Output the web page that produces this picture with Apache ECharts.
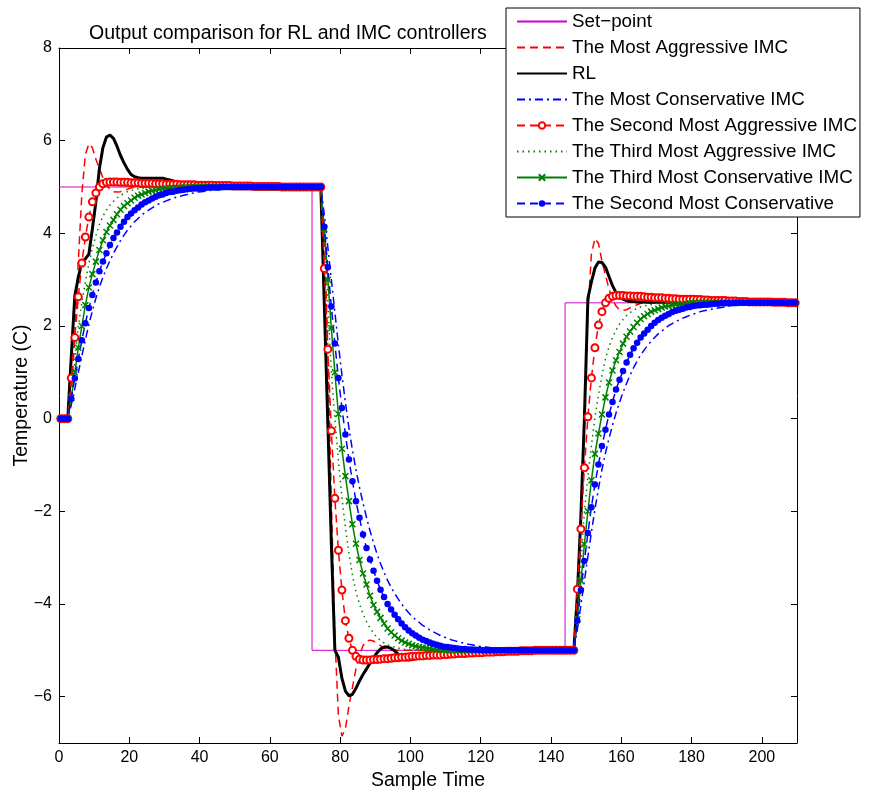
<!DOCTYPE html>
<html><head><meta charset="utf-8">
<script src="https://cdn.jsdelivr.net/npm/echarts@6/dist/echarts.min.js"></script>
<style>html,body{margin:0;padding:0;background:#fff}#c{width:877px;height:796px}</style>
</head><body><div id="c"></div>
<script>
const xTicks = [0,20,40,60,80,100,120,140,160,180,200];
const yTicks = [-6,-4,-2,0,2,4,6,8];
const titleText = 'Output comparison for RL and IMC controllers';
const seriesNames = ['Set\u2212point','The Most Aggressive IMC','RL','The Most Conservative IMC',
  'The Second Most Aggressive IMC','The Third Most Aggressive IMC','The Third Most Conservative IMC','The Second Most Conservative'];

const setPointTime = [0, 72, 72, 144, 144, 210];
const setPointValue = [5, 5, -5, -5, 2.5, 2.5];

// sample positions of the controller outputs (210 samples)
const sampleTime = Array.from({length: 210}, (_, i) => i + 0.5);

const mostAggressive = [0,0,0,
 0.5,1.75,3.4,4.85,5.7,5.93,5.85,5.6,5.4,5.2,
 5.05,4.95,4.9,4.89,4.9,4.93,4.95,4.98,4.99,5,
 5,5,5,5,5,5,5,5,5,5, 5,5,5,5,5,5,5,5,5,5, 5,5,5,5,5,5,5,5,5,5,
 5,5,5,5,5,5,5,5,5,5, 5,5,5,5,5,5,5,5,5,5, 5,5,
 4.0,1.5,-1.8,-4.7,-6.4,-6.85,-6.7,-6.2,-5.8,-5.4,
 -5.1,-4.9,-4.8,-4.78,-4.8,-4.85,-4.9,-4.95,-4.98,-5,
 -5,-5,-5,-5,-5,-5,-5,-5,-5,-5, -5,-5,-5,-5,-5,-5,-5,-5,-5,-5, -5,-5,-5,-5,-5,-5,-5,-5,-5,-5,
 -5,-5,-5,-5,-5,-5,-5,-5,-5,-5, -5,-5,-5,-5,-5,-5,-5,-5,-5,-5, -5,-5,
 -4.25,-2.38,0.1,2.28,3.55,3.89,3.78,3.4,3.1,2.8,
 2.58,2.43,2.35,2.34,2.35,2.39,2.43,2.46,2.49,2.5,
 2.5,2.5,2.5,2.5,2.5,2.5,2.5,2.5,2.5,2.5, 2.5,2.5,2.5,2.5,2.5,2.5,2.5,2.5,2.5,2.5,
 2.5,2.5,2.5,2.5,2.5,2.5,2.5,2.5,2.5,2.5, 2.5,2.5,2.5,2.5,2.5,2.5,2.5,2.5,2.5,2.5, 2.5,2.5,2.5];

const rlOutput = [0,0,0,
 1.35,2.65,3.05,3.38,3.45,3.55,4.1,4.68,5.4,5.85,
 6.08,6.12,6.05,5.88,5.68,5.52,5.38,5.27,5.22,5.2,
 5.19,5.19,5.19,5.19,5.19,5.19,5.19,5.17,5.15,5.13,
 5.11,5.09,5.07,5.06,5.05,5.04,5.04,5.03,5.03,5.02,
 5.02,5.02,5.01,5.01,5.01,5.01,5.01,5,5,5,
 5,5,5,5,5,5,5,5,5,5, 5,5,5,5,5,5,5,5,5,5, 5,5,
 2.45,-0.1,-2.7,-5.0,-5.15,-5.6,-5.88,-5.98,-5.95,-5.82,
 -5.66,-5.52,-5.4,-5.28,-5.16,-5.05,-4.97,-4.93,-4.93,-4.96,
 -5.01,-5.08,-5.15,-5.2,-5.21,-5.2,-5.18,-5.15,-5.13,-5.11,
 -5.09,-5.08,-5.07,-5.06,-5.05,-5.05,-5.04,-5.04,-5.03,-5.03,
 -5.03,-5.02,-5.02,-5.02,-5.02,-5.01,-5.01,-5.01,-5.01,-5.01,
 -5,-5,-5,-5,-5,-5,-5,-5,-5,-5, -5,-5,-5,-5,-5,-5,-5,-5,-5,-5, -5,-5,
 -3.8,-2.1,0.0,2.6,2.95,3.25,3.38,3.37,3.27,3.07,
 2.87,2.72,2.63,2.58,2.55,2.53,2.53,2.52,2.52,2.52,
 2.51,2.51,2.51,2.51,2.51,2.51,2.51,2.51,2.5,2.5,
 2.5,2.5,2.5,2.5,2.5,2.5,2.5,2.5,2.5,2.5, 2.5,2.5,2.5,2.5,2.5,2.5,2.5,2.5,2.5,2.5,
 2.5,2.5,2.5,2.5,2.5,2.5,2.5,2.5,2.5,2.5, 2.5,2.5,2.5];

const mostConservative = [0,0,0,
 0.3,0.65,1.0,1.35,1.7,2.03,2.33,2.6,2.84,3.05,
 3.24,3.41,3.57,3.71,3.84,3.96,4.07,4.16,4.25,4.32,
 4.39,4.45,4.5,4.55,4.6,4.64,4.67,4.7,4.73,4.76,
 4.78,4.8,4.82,4.84,4.86,4.87,4.89,4.9,4.91,4.92,
 4.93,4.94,4.94,4.95,4.96,4.96,4.97,4.97,4.98,4.98,
 4.98,4.99,4.99,4.99,4.99,4.99,5,5,5,5,
 5,5,5,5,5,5,5,5,5,5, 5,5,
 4.4,3.7,3.0,2.3,1.6,0.95,0.35,-0.2,-0.68,-1.1,
 -1.48,-1.82,-2.13,-2.42,-2.68,-2.92,-3.13,-3.32,-3.49,-3.64,
 -3.77,-3.89,-4.0,-4.1,-4.19,-4.27,-4.34,-4.4,-4.46,-4.51,
 -4.56,-4.6,-4.64,-4.68,-4.71,-4.74,-4.77,-4.79,-4.81,-4.83,
 -4.85,-4.87,-4.88,-4.9,-4.91,-4.92,-4.93,-4.94,-4.95,-4.96,
 -4.96,-4.97,-4.97,-4.98,-4.98,-4.98,-4.99,-4.99,-4.99,-5,
 -5,-5,-5,-5,-5,-5,-5,-5,-5,-5, -5,-5,
 -4.55,-4.03,-3.5,-2.98,-2.45,-1.96,-1.51,-1.1,-0.74,-0.43,
 -0.14,0.12,0.35,0.57,0.76,0.94,1.1,1.24,1.37,1.48,
 1.58,1.67,1.75,1.83,1.89,1.95,2.01,2.05,2.1,2.13,
 2.17,2.2,2.23,2.26,2.28,2.31,2.33,2.34,2.36,2.37,
 2.39,2.4,2.41,2.43,2.43,2.44,2.45,2.46,2.46,2.47,
 2.47,2.48,2.48,2.49,2.49,2.49,2.49,2.49,2.49,2.5,
 2.5,2.5,2.5];

const secondAggressive = [0,0,0,
 0.88,1.75,2.63,3.36,3.92,4.35,4.68,4.87,5.0,5.07,
 5.1,5.11,5.11,5.11,5.1,5.1,5.1,5.09,5.09,5.09,
 5.08,5.08,5.08,5.08,5.07,5.07,5.07,5.06,5.06,5.06,
 5.06,5.05,5.05,5.05,5.05,5.05,5.04,5.04,5.04,5.04,
 5.04,5.03,5.03,5.03,5.03,5.03,5.02,5.02,5.02,5.02,
 5.02,5.02,5.01,5.01,5.01,5.01,5.01,5.01,5.01,5.01,
 5,5,5,5,5,5,5,5,5,5, 5,5,
 3.24,1.5,-0.26,-1.72,-2.84,-3.7,-4.36,-4.74,-5.0,-5.13,
 -5.19,-5.21,-5.21,-5.21,-5.2,-5.2,-5.19,-5.18,-5.18,-5.17,
 -5.16,-5.16,-5.15,-5.15,-5.14,-5.13,-5.13,-5.12,-5.12,-5.11,
 -5.11,-5.1,-5.1,-5.1,-5.09,-5.09,-5.08,-5.08,-5.07,-5.07,
 -5.07,-5.06,-5.06,-5.05,-5.05,-5.05,-5.04,-5.04,-5.04,-5.03,
 -5.03,-5.03,-5.02,-5.02,-5.02,-5.02,-5.01,-5.01,-5.01,-5.01,
 -5,-5,-5,-5,-5,-5,-5,-5,-5,-5, -5,-5,
 -3.68,-2.38,-1.06,0.04,0.88,1.53,2.02,2.31,2.5,2.6,
 2.64,2.66,2.66,2.66,2.65,2.65,2.64,2.64,2.64,2.63,
 2.62,2.62,2.61,2.61,2.61,2.6,2.6,2.59,2.59,2.58,
 2.58,2.58,2.58,2.58,2.57,2.57,2.56,2.56,2.55,2.55,
 2.55,2.55,2.55,2.54,2.54,2.54,2.53,2.53,2.53,2.52,
 2.52,2.52,2.52,2.52,2.52,2.52,2.51,2.51,2.51,2.51,
 2.5,2.5,2.5];

const thirdAggressive = [0,0,0,
 0.5,1.25,2.0,2.5,2.95,3.35,3.68,3.95,4.19,4.37,
 4.5,4.61,4.69,4.76,4.82,4.86,4.9,4.92,4.94,4.96,
 4.97,4.98,4.99,4.99,5,
 5,5,5,5,5,5,5,5,5,5, 5,5,5,5,5,5,5,5,5,5, 5,5,5,5,5,5,5,5,5,5,
 5,5,5,5,5,5,5,5,5,5, 5,5,5,5,5,5,5,
 4.0,2.5,1.0,0.0,-0.9,-1.7,-2.35,-2.9,-3.38,-3.73,
 -4.0,-4.21,-4.38,-4.52,-4.63,-4.72,-4.79,-4.84,-4.88,-4.91,
 -4.93,-4.95,-4.97,-4.98,-4.99,
 -5,-5,-5,-5,-5,-5,-5,-5,-5,-5, -5,-5,-5,-5,-5,-5,-5,-5,-5,-5, -5,-5,-5,-5,-5,-5,-5,-5,-5,-5,
 -5,-5,-5,-5,-5,-5,-5,-5,-5,-5, -5,-5,-5,-5,-5,-5,-5,
 -4.25,-3.13,-2.0,-1.25,-0.58,0.03,0.51,0.93,1.29,1.55,
 1.75,1.91,2.04,2.14,2.22,2.29,2.34,2.38,2.41,2.43,
 2.45,2.46,2.48,2.49,2.49,
 2.5,2.5,2.5,2.5,2.5,2.5,2.5,2.5,2.5,2.5, 2.5,2.5,2.5,2.5,2.5,2.5,2.5,2.5,2.5,2.5,
 2.5,2.5,2.5,2.5,2.5,2.5,2.5,2.5,2.5,2.5, 2.5,2.5,2.5,2.5,2.5,2.5,2.5,2.5];

const thirdConservative = [0,0,0,
 0.45,1.0,1.53,2.0,2.45,2.83,3.12,3.39,3.64,3.85,
 4.03,4.17,4.29,4.41,4.51,4.59,4.65,4.71,4.77,4.81,
 4.84,4.87,4.9,4.92,4.93,4.95,4.96,4.97,4.97,4.98,
 4.98,4.99,4.99,4.99,5,
 5,5,5,5,5,5,5,5,5,5, 5,5,5,5,5,5,5,5,5,5, 5,5,5,5,5,5,5,5,5,5, 5,5,5,5,5,5,5,
 4.1,3.0,1.95,1.0,0.1,-0.65,-1.24,-1.78,-2.28,-2.7,
 -3.05,-3.34,-3.58,-3.82,-4.02,-4.17,-4.3,-4.42,-4.53,-4.61,
 -4.68,-4.74,-4.79,-4.83,-4.86,-4.89,-4.91,-4.93,-4.94,-4.95,
 -4.96,-4.97,-4.98,-4.98,-4.99,
 -5,-5,-5,-5,-5,-5,-5,-5,-5,-5, -5,-5,-5,-5,-5,-5,-5,-5,-5,-5, -5,-5,-5,-5,-5,-5,-5,-5,-5,-5, -5,-5,-5,-5,-5,-5,-5,
 -4.33,-3.5,-2.71,-2.0,-1.33,-0.76,-0.32,0.09,0.46,0.78,
 1.04,1.26,1.44,1.62,1.77,1.88,1.98,2.07,2.15,2.21,
 2.26,2.31,2.34,2.37,2.4,2.42,2.43,2.45,2.46,2.46,
 2.47,2.48,2.49,2.49,2.49,
 2.5,2.5,2.5,2.5,2.5,2.5,2.5,2.5,2.5,2.5, 2.5,2.5,2.5,2.5,2.5,2.5,2.5,2.5,2.5,2.5, 2.5,2.5,2.5,2.5,2.5,2.5,2.5,2.5];

const secondConservative = [0,0,0,
 0.43,0.87,1.29,1.69,2.06,2.39,2.67,2.94,3.18,3.39,
 3.57,3.75,3.9,4.02,4.14,4.25,4.35,4.43,4.5,4.56,
 4.62,4.67,4.71,4.75,4.79,4.82,4.84,4.87,4.89,4.9,
 4.92,4.93,4.94,4.95,4.96,4.97,4.97,4.98,4.98,4.99,
 4.99,4.99,4.99,5,5,
 5,5,5,5,5,5,5,5,5,5, 5,5,5,5,5,5,5,5,5,5, 5,5,5,5,5,5,5,
 4.14,3.27,2.42,1.62,0.88,0.23,-0.34,-0.88,-1.35,-1.78,
 -2.14,-2.5,-2.79,-3.04,-3.28,-3.5,-3.69,-3.85,-4.0,-4.12,
 -4.23,-4.33,-4.42,-4.5,-4.57,-4.63,-4.68,-4.73,-4.77,-4.8,
 -4.83,-4.86,-4.88,-4.9,-4.92,-4.93,-4.94,-4.95,-4.96,-4.97,
 -4.97,-4.98,-4.98,-4.99,-4.99,
 -5,-5,-5,-5,-5,-5,-5,-5,-5,-5, -5,-5,-5,-5,-5,-5,-5,-5,-5,-5, -5,-5,-5,-5,-5,-5,-5,
 -4.36,-3.7,-3.07,-2.47,-1.91,-1.42,-0.99,-0.59,-0.24,0.09,
 0.36,0.63,0.84,1.03,1.21,1.38,1.52,1.64,1.75,1.84,
 1.92,2.0,2.07,2.13,2.18,2.22,2.26,2.3,2.33,2.35,
 2.37,2.4,2.41,2.43,2.44,2.45,2.46,2.46,2.47,2.48,
 2.48,2.49,2.49,2.49,2.49,
 2.5,2.5,2.5,2.5,2.5,2.5,2.5,2.5,2.5,2.5, 2.5,2.5,2.5,2.5,2.5,2.5,2.5,2.5];

const FONT = '"Liberation Sans", Arial, Helvetica, sans-serif';
function pairs(vals) { return vals.map((v, i) => [sampleTime[i], v]); }
[mostAggressive, rlOutput, mostConservative, secondAggressive, thirdAggressive, thirdConservative, secondConservative]
  .forEach((a, i) => { if (a.length !== 210) console.warn('length', i, a.length); });

const minus = v => String(v).replace('-', '\u2212');
const axisLineStyle = {show: true, onZero: false, lineStyle: {color: '#000', width: 1}};

function xAx(main) {
  return {
    type: 'value', min: 0, max: 210, position: main ? 'bottom' : 'top',
    axisLine: axisLineStyle,
    axisTick: {show: true, inside: true, length: 6, customValues: xTicks, lineStyle: {color: '#000'}},
    axisLabel: main ? {show: true, customValues: xTicks, color: '#000', fontSize: 16, fontFamily: FONT, margin: 7, formatter: minus} : {show: false},
    splitLine: {show: false},
    name: main ? 'Sample Time' : '', nameLocation: 'middle', nameGap: 28, nameMoveOverlap: false,
    nameTextStyle: {color: '#000', fontSize: 19.5, fontFamily: FONT}
  };
}
function yAx(main) {
  return {
    type: 'value', min: -7, max: 8, position: main ? 'left' : 'right',
    axisLine: axisLineStyle,
    axisTick: {show: true, inside: true, length: 6, customValues: yTicks, lineStyle: {color: '#000'}},
    axisLabel: main ? {show: true, customValues: yTicks, color: '#000', fontSize: 16, fontFamily: FONT, margin: 7, formatter: minus} : {show: false},
    splitLine: {show: false},
    name: main ? 'Temperature (C)' : '', nameLocation: 'middle', nameGap: 27, nameMoveOverlap: false,
    nameTextStyle: {color: '#000', fontSize: 19.5, fontFamily: FONT}
  };
}

const common = {type: 'line', animation: false, emphasis: {disabled: true}, xAxisIndex: 0, yAxisIndex: 0};
const series = [
  Object.assign({}, common, {name: seriesNames[0], data: setPointTime.map((t, i) => [t, setPointValue[i]]),
    symbol: 'none', lineStyle: {color: '#d000d0', width: 1}, itemStyle: {color: '#d000d0'}}),
  Object.assign({}, common, {name: seriesNames[1], data: pairs(mostAggressive), symbol: 'none',
    lineStyle: {color: '#ff0000', width: 1.5, type: [8, 5]}, itemStyle: {color: '#ff0000'}}),
  Object.assign({}, common, {name: seriesNames[2], data: pairs(rlOutput), symbol: 'none',
    lineStyle: {color: '#000000', width: 3}, itemStyle: {color: '#000000'}}),
  Object.assign({}, common, {name: seriesNames[3], data: pairs(mostConservative), symbol: 'none',
    lineStyle: {color: '#0000ff', width: 1.5, type: [8, 4, 2, 4]}, itemStyle: {color: '#0000ff'}}),
  Object.assign({}, common, {name: seriesNames[4], data: pairs(secondAggressive), symbol: 'emptyCircle', symbolSize: 7,
    lineStyle: {color: '#ff0000', width: 1.5, type: [8, 5]}, itemStyle: {color: '#ff0000', borderColor: '#ff0000', borderWidth: 1.1}}),
  Object.assign({}, common, {name: seriesNames[5], data: pairs(thirdAggressive), symbol: 'none',
    lineStyle: {color: '#008000', width: 1.5, type: [1.5, 4]}, itemStyle: {color: '#008000'}}),
  Object.assign({}, common, {name: seriesNames[6], data: pairs(thirdConservative), symbol: 'path://M0,0L10,10M10,0L0,10', symbolSize: 6,
    lineStyle: {color: '#008000', width: 1.5}, itemStyle: {color: '#008000', borderColor: '#008000', borderWidth: 1.5}}),
  Object.assign({}, common, {name: seriesNames[7], data: pairs(secondConservative), symbol: 'circle', symbolSize: 6.5,
    lineStyle: {color: '#0000ff', width: 1.5, type: [8, 5]}, itemStyle: {color: '#0000ff'}})
];

const noMarker = {opacity: 0};
const legendData = seriesNames.map((n, i) => ([0, 1, 2, 3, 5].indexOf(i) >= 0 ? {name: n, itemStyle: noMarker} : {name: n}));

const chart = echarts.init(document.getElementById('c'), null, {renderer: 'canvas'});
chart.setOption({
  animation: false,
  backgroundColor: '#ffffff',
  title: {text: titleText, left: 84, top: 19, textStyle: {fontFamily: FONT, fontSize: 19.5, fontWeight: 'normal', color: '#000'}},
  grid: {left: 59, right: 80, top: 48, bottom: 53, containLabel: false, outerBoundsMode: 'none'},
  legend: {
    orient: 'vertical', left: 506, top: 8, itemWidth: 50, itemHeight: 8, itemGap: 7,
    padding: [4, 3, 4, 10], backgroundColor: '#fff', borderColor: '#000', borderWidth: 1, borderRadius: 0,
    textStyle: {fontFamily: FONT, fontSize: 18.8, color: '#000'}, data: legendData, selectedMode: false
  },
  xAxis: [xAx(true), xAx(false)],
  yAxis: [yAx(true), yAx(false)],
  series: series
});
</script></body></html>
